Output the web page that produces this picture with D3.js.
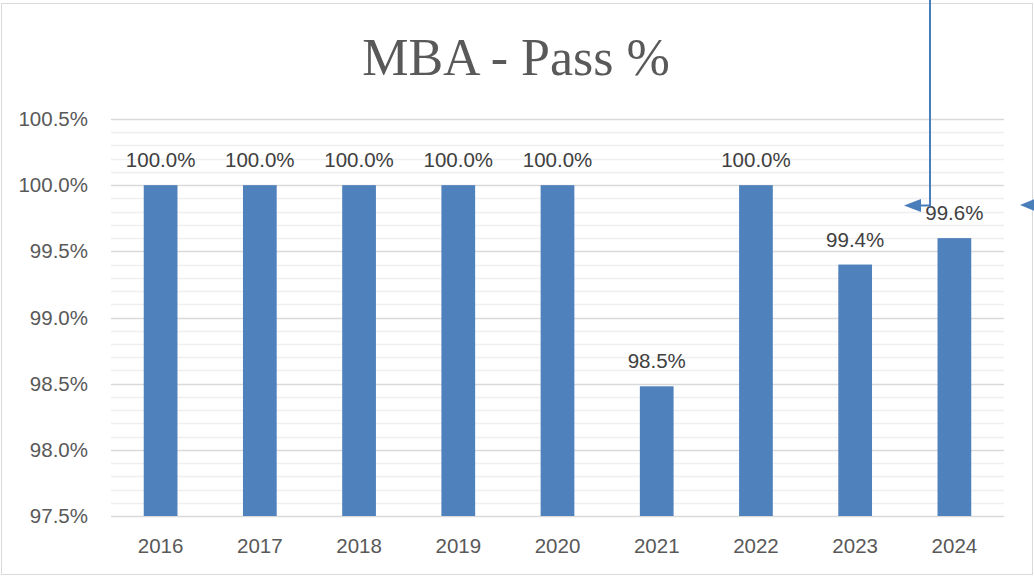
<!DOCTYPE html>
<html>
<head>
<meta charset="utf-8">
<script src="https://cdn.jsdelivr.net/npm/d3@7"></script>
<style>
  body { margin: 0; background: #fff; }
  svg { display: block; }
</style>
</head>
<body>
<div id="chart"></div>
<script>
// data
var years = ["2016", "2017", "2018", "2019", "2020", "2021", "2022", "2023", "2024"];
var passPct = [100.0, 100.0, 100.0, 100.0, 100.0, 98.48, 100.0, 99.4, 99.6];
var yTicks = [97.5, 98.0, 98.5, 99.0, 99.5, 100.0, 100.5];
var chartTitle = "MBA - Pass %";

var W = 1034, H = 577;
var margin = { top: 119, right: 30, bottom: 61, left: 111 },
  width = 1004 - margin.left,
  height = 516 - margin.top;

var svg = d3.select("#chart")
  .append("svg")
  .attr("width", W)
  .attr("height", H);

// chart frame
svg.append("rect")
  .attr("x", 1.5).attr("y", 3.5)
  .attr("width", 1031).attr("height", 571)
  .attr("fill", "#fff")
  .attr("stroke", "#d9d9d9");

svg.append("text")
  .attr("x", 516).attr("y", 75)
  .attr("text-anchor", "middle")
  .style("font-family", "'Liberation Serif', serif")
  .style("font-size", "52px")
  .attr("fill", "#595959")
  .text(chartTitle);

var g = svg.append("g")
  .attr("transform", "translate(" + margin.left + "," + margin.top + ")");

var x = d3.scaleBand()
  .domain(years)
  .range([0, width])
  .paddingInner(0.66)
  .paddingOuter(0.33);

var y = d3.scaleLinear()
  .domain([97.5, 100.5])
  .range([height, 0]);

// minor grid every 0.1
var minor = d3.range(975, 1006, 1).map(function (d) { return d / 10; })
  .filter(function (d) { return Math.round(d * 10) % 5 !== 0; });
g.selectAll(".minor")
  .data(minor)
  .enter().append("line")
  .attr("class", "minor")
  .attr("x1", 0).attr("x2", width)
  .attr("y1", function (d) { return Math.round(y(d)) + 0.5; })
  .attr("y2", function (d) { return Math.round(y(d)) + 0.5; })
  .attr("stroke", "#efefef")
  .attr("stroke-width", 1.5);

// major grid
g.selectAll(".major")
  .data(yTicks)
  .enter().append("line")
  .attr("class", "major")
  .attr("x1", 0).attr("x2", width)
  .attr("y1", function (d) { return Math.round(y(d)) + 0.5; })
  .attr("y2", function (d) { return Math.round(y(d)) + 0.5; })
  .attr("stroke", "#d9d9d9")
  .attr("stroke-width", 1.5);

// y axis labels
var yAxis = g.append("g")
  .call(d3.axisLeft(y).tickValues(yTicks).tickSize(0).tickPadding(23)
    .tickFormat(function (d) { return d.toFixed(1) + "%"; }));
yAxis.select(".domain").remove();
yAxis.selectAll("text")
  .style("font-family", "'Liberation Sans', Arial, sans-serif")
  .style("font-size", "20.5px")
  .attr("fill", "#595959");

// x axis labels
var xAxis = g.append("g")
  .attr("transform", "translate(0," + height + ")")
  .call(d3.axisBottom(x).tickSize(0).tickPadding(22));
xAxis.select(".domain").remove();
xAxis.selectAll("text")
  .style("font-family", "'Liberation Sans', Arial, sans-serif")
  .style("font-size", "20.5px")
  .attr("fill", "#595959");

// bars
g.selectAll(".bar")
  .data(passPct)
  .enter().append("rect")
  .attr("class", "bar")
  .attr("x", function (d, i) { return x(years[i]); })
  .attr("y", function (d) { return y(d); })
  .attr("width", x.bandwidth())
  .attr("height", function (d) { return height - y(d); })
  .attr("fill", "#4f81bd");

// data labels
g.selectAll(".lbl")
  .data(passPct)
  .enter().append("text")
  .attr("class", "lbl")
  .attr("x", function (d, i) { return x(years[i]) + x.bandwidth() / 2; })
  .attr("y", function (d) { return y(d) - 18; })
  .attr("text-anchor", "middle")
  .style("font-family", "'Liberation Sans', Arial, sans-serif")
  .style("font-size", "20.5px")
  .attr("fill", "#404040")
  .text(function (d) { return d.toFixed(1) + "%"; });

// stray connector arrows over the chart
svg.append("path")
  .attr("d", "M930,0 V205.5 H918")
  .attr("fill", "none")
  .attr("stroke", "#4a7ebb")
  .attr("stroke-width", 2);
svg.append("path")
  .attr("d", "M904,205.5 L921,199 L921,212 Z")
  .attr("fill", "#4a7ebb");
svg.append("path")
  .attr("d", "M1020,205 L1036,198.5 L1036,211.5 Z")
  .attr("fill", "#4a7ebb");
</script>
</body>
</html>
